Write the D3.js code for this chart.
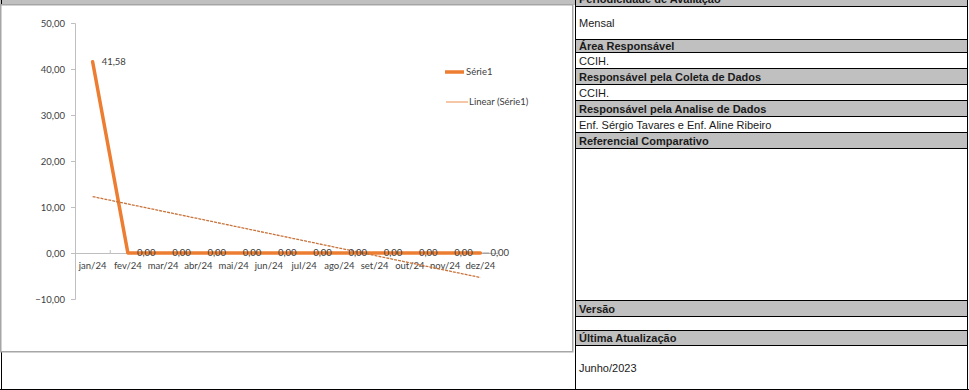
<!DOCTYPE html>
<html>
<head>
<meta charset="utf-8">
<script src="https://cdn.jsdelivr.net/npm/d3@7"></script>
<style>
  html, body { margin: 0; padding: 0; background: #fff; }
  svg { display: block; }
</style>
</head>
<body>
<svg id="sheet" width="969" height="390"></svg>
<script>
// Monthly indicator: categories and values
const months = ["jan/24", "fev/24", "mar/24", "abr/24", "mai/24", "jun/24",
                "jul/24", "ago/24", "set/24", "out/24", "nov/24", "dez/24"];
const serie1 = [41.58, 0, 0, 0, 0, 0, 0, 0, 0, 0, 0, 0];
const yTicks = [-10, 0, 10, 20, 30, 40, 50];
const seriesName = "Série1";
const trendName = "Linear (Série1)";

// Side info panel: [text, isHeader, top, bottom]
const panelRows = [
  ["Periodicidade de Avaliação", true, -10, 6],
  ["Mensal", false, 6, 39],
  ["Área Responsável", true, 39, 52],
  ["CCIH.", false, 52, 68],
  ["Responsável pela Coleta de Dados", true, 68, 84],
  ["CCIH.", false, 84, 100],
  ["Responsável pela Analise de Dados", true, 100, 116],
  ["Enf. Sérgio Tavares e Enf. Aline Ribeiro", false, 116, 132],
  ["Referencial Comparativo", true, 132, 148],
  ["", false, 148, 300],
  ["Versão", true, 300, 316],
  ["", false, 316, 330],
  ["Última Atualização", true, 330, 345],
  ["Junho/2023", false, 345, 389]
];

const svg = d3.select("#sheet");
const locale = d3.formatLocale({ decimal: ",", thousands: ".", grouping: [3], currency: ["R$", ""] });
const fmt = locale.format(".2f");
const chartFont = "Lato, 'Open Sans', sans-serif";
const orange = "#ED7D31";
const trendColor = "#C8743C";

// ---- sheet background pieces ----
svg.append("rect").attr("x", 0).attr("y", 0).attr("width", 576).attr("height", 5).attr("fill", "#C0C0C0");
svg.append("line").attr("x1", 1.5).attr("x2", 1.5).attr("y1", 0).attr("y2", 390).attr("stroke", "#000");
svg.append("line").attr("x1", 0).attr("x2", 969).attr("y1", 389.5).attr("y2", 389.5).attr("stroke", "#000");

// ---- chart object ----
svg.append("rect").attr("x", 0.75).attr("y", 4.75).attr("width", 572).attr("height", 347)
  .attr("fill", "#fff").attr("stroke", "#A6A6A6").attr("stroke-width", 1.5);

const x = d3.scaleBand().domain(months).range([75, 498]).padding(0);
const y = d3.scaleLinear().domain([-10, 50]).range([299, 23]);
const cx = m => x(m) + x.bandwidth() / 2;

// value axis
const yAxis = svg.append("g").attr("transform", "translate(75,0)")
  .call(d3.axisLeft(y).tickValues(yTicks).tickSize(4).tickPadding(6).tickFormat(fmt));
yAxis.select(".domain").attr("stroke", "#BFBFBF");
yAxis.selectAll(".tick line").attr("stroke", "#BFBFBF");
yAxis.selectAll("text").attr("fill", "#404040").style("font", `9.5px ${chartFont}`);

// category axis crossing at zero
const xAxis = svg.append("g").attr("transform", `translate(0,${y(0)})`)
  .call(d3.axisBottom(x).tickSize(0).tickPadding(9));
xAxis.select(".domain").attr("stroke", "#BFBFBF");
xAxis.selectAll("text").attr("fill", "#404040").style("font", `9.5px ${chartFont}`);
// category boundary tick marks
svg.append("g").selectAll("line").data(months.slice(1).concat([null])).join("line")
  .attr("x1", (d, i) => x(months[0]) + (i + 1) * x.bandwidth())
  .attr("x2", (d, i) => x(months[0]) + (i + 1) * x.bandwidth())
  .attr("y1", y(0) - 3).attr("y2", y(0))
  .attr("stroke", "#BFBFBF");

// series line
const line = d3.line().x((d, i) => cx(months[i])).y(d => y(d));
svg.append("path").datum(serie1).attr("d", line)
  .attr("fill", "none").attr("stroke", orange).attr("stroke-width", 3.5)
  .attr("stroke-linejoin", "round").attr("stroke-linecap", "round");

// linear trendline (least squares over month index)
const n = serie1.length;
const xs = d3.range(1, n + 1);
const mx = d3.mean(xs), my = d3.mean(serie1);
const slope = d3.sum(xs, (v, i) => (v - mx) * (serie1[i] - my)) / d3.sum(xs, v => (v - mx) ** 2);
const intercept = my - slope * mx;
svg.append("line")
  .attr("x1", cx(months[0])).attr("y1", y(intercept + slope * 1))
  .attr("x2", cx(months[n - 1])).attr("y2", y(intercept + slope * n))
  .attr("stroke", trendColor).attr("stroke-width", 1.3).attr("stroke-dasharray", "3,1");

// data labels
const labels = svg.append("g").style("font", `9.5px ${chartFont}`).attr("fill", "#404040");
serie1.forEach((v, i) => {
  const px = cx(months[i]);
  const last = i === n - 1;
  const lx = px + (last ? 10 : 9);
  if (last) {
    svg.append("line").attr("x1", px + 2).attr("x2", lx - 1).attr("y1", y(v)).attr("y2", y(v))
      .attr("stroke", "#808080").attr("stroke-width", 0.8);
  }
  labels.append("text").attr("x", lx).attr("y", y(v)).attr("dy", "0.35em").text(fmt(v));
});

// legend
const lg = svg.append("g").style("font", `9.5px ${chartFont}`).attr("fill", "#404040");
lg.append("line").attr("x1", 445).attr("x2", 464).attr("y1", 72).attr("y2", 72)
  .attr("stroke", orange).attr("stroke-width", 3.5);
lg.append("text").attr("x", 466).attr("y", 72).attr("dy", "0.35em").text(seriesName);
lg.append("line").attr("x1", 446).attr("x2", 468).attr("y1", 102).attr("y2", 102)
  .attr("stroke", "#F0A070").attr("stroke-width", 1.2);
lg.append("text").attr("x", 469).attr("y", 102).attr("dy", "0.35em").text(trendName);

// ---- info panel ----
const panel = svg.append("g");
panel.selectAll("rect").data(panelRows).join("rect")
  .attr("x", 575.5).attr("y", d => d[2]).attr("width", 392).attr("height", d => d[3] - d[2])
  .attr("fill", d => d[1] ? "#C0C0C0" : "#fff");
panel.selectAll("line.row").data(panelRows).join("line").attr("class", "row")
  .attr("x1", 575).attr("x2", 968).attr("y1", d => d[3] + 0.5).attr("y2", d => d[3] + 0.5)
  .attr("stroke", "#000");
panel.append("line").attr("x1", 575.5).attr("x2", 575.5).attr("y1", 0).attr("y2", 390).attr("stroke", "#000");
panel.append("line").attr("x1", 967.5).attr("x2", 967.5).attr("y1", 0).attr("y2", 390).attr("stroke", "#000");
panel.selectAll("text").data(panelRows.filter(d => d[0])).join("text")
  .attr("x", 579).attr("y", d => (d[2] + d[3]) / 2 + 1).attr("dy", "0.35em")
  .attr("fill", d => d[1] ? "#1a1a1a" : "#1a1a1a")
  .style("font-family", "'Liberation Sans', Arial, sans-serif")
  .style("font-size", "11px")
  .style("font-weight", d => d[1] ? "bold" : "normal")
  .text(d => d[0]);
</script>
</body>
</html>
